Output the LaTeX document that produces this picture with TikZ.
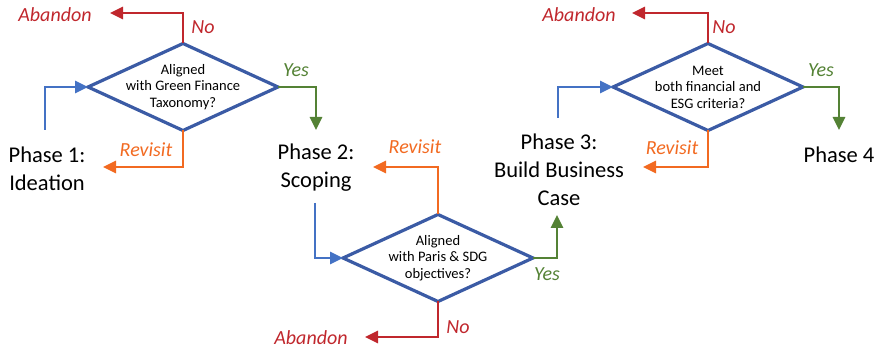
\documentclass[tikz,border=0pt]{standalone}
\usepackage{fontspec}
\setmainfont{Carlito}
\usetikzlibrary{shapes.geometric,arrows.meta}
\definecolor{dblue}{HTML}{3B5BA5}
\definecolor{lblue}{HTML}{4472C4}
\definecolor{cred}{HTML}{C0272D}
\definecolor{cgreen}{HTML}{548235}
\definecolor{corange}{HTML}{F26A21}
\tikzset{
  diam/.style={diamond, draw=dblue, line width=3.2pt, inner sep=0pt, outer sep=0pt,
    minimum width=190pt, minimum height=87pt},
  dtext/.style={align=center, font=\fontsize{14.5}{16.5}\selectfont, inner sep=0pt},
  phase/.style={align=center, font=\fontsize{22.5}{28}\selectfont, inner sep=0pt},
  lab/.style={font=\fontsize{20}{22}\selectfont\itshape, inner sep=0pt},
  conn/.style={line width=2.7pt, -{Triangle[length=13pt,width=12pt]}},
  bl/.style={conn, draw=lblue},
  rd/.style={conn, draw=cred},
  gr/.style={conn, draw=cgreen},
  og/.style={conn, draw=corange},
}
\begin{document}
\begin{tikzpicture}[x=1pt,y=-1pt]
\useasboundingbox (0,0) rectangle (879,352);
% diamonds
\node[diam] (d1) at (183,87) {};
\node[dtext] (t1) at (d1) {Aligned\\with Green Finance\\Taxonomy?};
\node[diam] (d2) at (438,258) {};
\node[dtext] (t2) at (d2) {Aligned\\with Paris \& SDG\\objectives?};
\node[diam] (d3) at (708,87) {};
\node[dtext] (t3) at (d3) {Meet\\both financial and\\ESG criteria?};
% phases
\node[phase] (p1) at (47,169) {Phase 1:\\Ideation};
\node[phase] (p2) at (316,168) {Phase 2:\\Scoping};
\node[phase] (p3) at (559,170) {Phase 3:\\Build Business\\Case};
\node[phase] (p4) at (839,155) {Phase 4};
% labels
\node[lab, text=cred] (ab1) at (55,15) {Abandon};
\node[lab, text=cred] (no1) at (203,27) {No};
\node[lab, text=cgreen] (ye1) at (296,70) {Yes};
\node[lab, text=corange] (re1) at (146,150) {Revisit};
\node[lab, text=corange] (re2) at (415,147) {Revisit};
\node[lab, text=cgreen] (ye2) at (547,274) {Yes};
\node[lab, text=cred] (no2) at (458,327) {No};
\node[lab, text=cred] (ab2) at (311,338) {Abandon};
\node[lab, text=cred] (ab3) at (579,15) {Abandon};
\node[lab, text=cred] (no3) at (724,27) {No};
\node[lab, text=cgreen] (ye3) at (821,70) {Yes};
\node[lab, text=corange] (re3) at (672,148) {Revisit};
% connector ends
\coordinate (s1) at (45,130);
\coordinate (a1) at (110,13);
\coordinate (y1) at (316,130);
\coordinate (r1) at (103,167);
\coordinate (s2) at (315,203);
\coordinate (r2) at (373,167);
\coordinate (y2) at (557,215);
\coordinate (a2) at (365,337);
\coordinate (s3) at (558,118);
\coordinate (a3) at (632,13);
\coordinate (y3) at (839,130);
\coordinate (r3) at (643,167);
% connectors
\draw[bl] (s1) |- (d1.west);
\draw[rd] (d1.north) |- (a1);
\draw[gr] (d1.east) -| (y1);
\draw[og] (d1.south) |- (r1);
\draw[bl] (s2) |- (d2.west);
\draw[og] (d2.north) |- (r2);
\draw[gr] (d2.east) -| (y2);
\draw[rd] (d2.south) |- (a2);
\draw[bl] (s3) |- (d3.west);
\draw[rd] (d3.north) |- (a3);
\draw[gr] (d3.east) -| (y3);
\draw[og] (d3.south) |- (r3);
\end{tikzpicture}
\end{document}
